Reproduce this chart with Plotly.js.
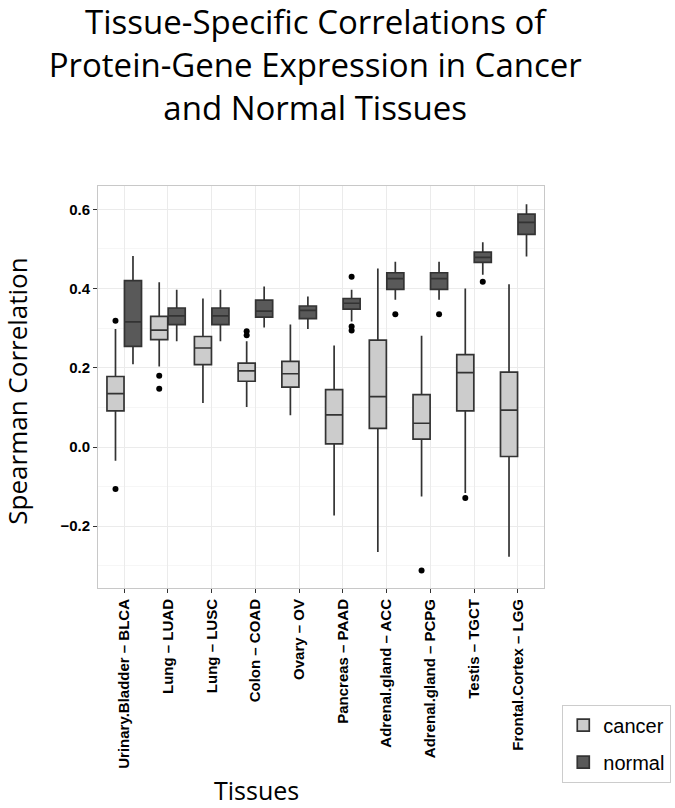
<!DOCTYPE html>
<html>
<head>
<meta charset="utf-8">
<script src="https://cdn.plot.ly/plotly-3.0.1.min.js"></script>
<style>
  html, body { margin: 0; padding: 0; background: #fff; }
  #chart { width: 675px; height: 808px; }
</style>
</head>
<body>
<div id="chart"></div>
<script>
// tissue labels (x axis)
const tissues = [
    'Urinary.Bladder – BLCA', 'Lung – LUAD', 'Lung – LUSC', 'Colon – COAD', 'Ovary – OV',
    'Pancreas – PAAD', 'Adrenal.gland – ACC', 'Adrenal.gland – PCPG', 'Testis – TGCT', 'Frontal.Cortex – LGG'
];

// cancer box stats
const cancerLow    = [-0.035, 0.203, 0.111, 0.101, 0.080, -0.173, -0.265, -0.125, -0.116, -0.277];
const cancerQ1     = [0.091, 0.271, 0.208, 0.166, 0.151, 0.008, 0.047, 0.020, 0.091, -0.024];
const cancerMedian = [0.135, 0.295, 0.250, 0.192, 0.185, 0.081, 0.127, 0.060, 0.188, 0.093];
const cancerQ3     = [0.178, 0.330, 0.279, 0.212, 0.216, 0.145, 0.270, 0.132, 0.233, 0.189];
const cancerHigh   = [0.298, 0.416, 0.375, 0.267, 0.309, 0.256, 0.451, 0.281, 0.400, 0.411];

// normal box stats
const normalLow    = [0.209, 0.267, 0.267, 0.302, 0.298, 0.317, 0.372, 0.372, 0.435, 0.481];
const normalQ1     = [0.254, 0.309, 0.309, 0.328, 0.324, 0.348, 0.398, 0.398, 0.466, 0.537];
const normalMedian = [0.316, 0.331, 0.331, 0.343, 0.345, 0.363, 0.425, 0.425, 0.479, 0.567];
const normalQ3     = [0.420, 0.351, 0.351, 0.371, 0.356, 0.375, 0.440, 0.440, 0.492, 0.588];
const normalHigh   = [0.482, 0.397, 0.397, 0.405, 0.380, 0.397, 0.468, 0.468, 0.517, 0.613];

// outliers: tissue index + value
const cancerOutIdx = [0, 0, 1, 1, 3, 3, 7, 8];
const cancerOutVal = [0.319, -0.106, 0.180, 0.147, 0.292, 0.282, -0.312, -0.129];
const normalOutIdx = [5, 5, 5, 6, 7, 8];
const normalOutVal = [0.430, 0.304, 0.294, 0.335, 0.335, 0.417];

const idx = tissues.map((_, i) => i);
const shift = 0.2;
const lineCol = '#333333';

function boxTrace(name, pos, low, q1, med, q3, high, fill) {
    return {
        type: 'box', name: name, x: pos,
        lowerfence: low, q1: q1, median: med, q3: q3, upperfence: high,
        width: 0.39, whiskerwidth: 0, boxpoints: false,
        fillcolor: fill, line: { color: lineCol, width: 1.7 },
        hoverinfo: 'skip', legendgroup: name
    };
}

function outTrace(pos, vals) {
    return {
        type: 'scatter', mode: 'markers', x: pos, y: vals, showlegend: false,
        marker: { color: '#000', size: 6 }, hoverinfo: 'skip'
    };
}

const traces = [
    boxTrace('cancer', idx.map(i => i - shift), cancerLow, cancerQ1, cancerMedian, cancerQ3, cancerHigh, '#cccccc'),
    boxTrace('normal', idx.map(i => i + shift), normalLow, normalQ1, normalMedian, normalQ3, normalHigh, '#595959'),
    outTrace(cancerOutIdx.map(i => i - shift), cancerOutVal),
    outTrace(normalOutIdx.map(i => i + shift), normalOutVal)
];

const titleFont = { family: 'Open Sans, sans-serif', color: '#000' };

const layout = {
    width: 675, height: 808,
    margin: { l: 98, r: 131, t: 186, b: 220 },
    paper_bgcolor: '#fff', plot_bgcolor: '#fff',
    font: { family: 'Liberation Sans, Arial, sans-serif', color: '#000' },
    title: {
        text: 'Tissue-Specific Correlations of<br>Protein-Gene Expression in Cancer<br>and Normal Tissues',
        font: { ...titleFont, size: 33 },
        xref: 'container', x: 0.467, xanchor: 'center',
        yref: 'container', y: 0.958, yanchor: 'top'
    },
    showlegend: true,
    legend: {
        xref: 'container', yref: 'container',
        x: 0.833, xanchor: 'left', y: 0.128, yanchor: 'top',
        font: { family: 'Liberation Sans, Arial, sans-serif', size: 20, color: '#000' },
        bordercolor: '#cccccc', borderwidth: 1, bgcolor: '#fff',
        tracegroupgap: 8
    },
    xaxis: {
        range: [-0.6, 9.6], tickmode: 'array', tickvals: idx, ticktext: tissues,
        tickangle: -90, tickfont: { size: 15, weight: 'bold', color: '#000' },
        ticks: 'outside', ticklen: 4, tickcolor: lineCol,
        showgrid: true, gridcolor: '#ebebeb', gridwidth: 1,
        showline: true, mirror: true, linecolor: '#c8c8c8', linewidth: 1,
        zeroline: false, fixedrange: true
    },
    yaxis: {
        range: [-0.356, 0.659], tickvals: [-0.2, 0, 0.2, 0.4, 0.6], tickformat: '.1f',
        tickfont: { size: 15, weight: 'bold', color: '#000' },
        ticks: 'outside', ticklen: 4, tickcolor: lineCol,
        showgrid: true, gridcolor: '#ebebeb', gridwidth: 1,
        minor: { tickvals: [-0.3, -0.1, 0.1, 0.3, 0.5], showgrid: true, gridcolor: '#f6f6f6', ticks: '' },
        showline: true, mirror: true, linecolor: '#c8c8c8', linewidth: 1,
        zeroline: false, fixedrange: true
    },
    annotations: [
        {
            text: 'Tissues', xref: 'paper', yref: 'paper', x: 0.355, y: -0.503,
            xanchor: 'center', yanchor: 'middle', showarrow: false,
            font: { ...titleFont, size: 25 }
        },
        {
            text: 'Spearman Correlation', xref: 'paper', yref: 'paper', x: -0.181, y: 0.489,
            xanchor: 'center', yanchor: 'middle', textangle: -90, showarrow: false,
            font: { ...titleFont, size: 26 }
        }
    ]
};

Plotly.newPlot('chart', traces, layout, { displayModeBar: false, staticPlot: true });
</script>
</body>
</html>
